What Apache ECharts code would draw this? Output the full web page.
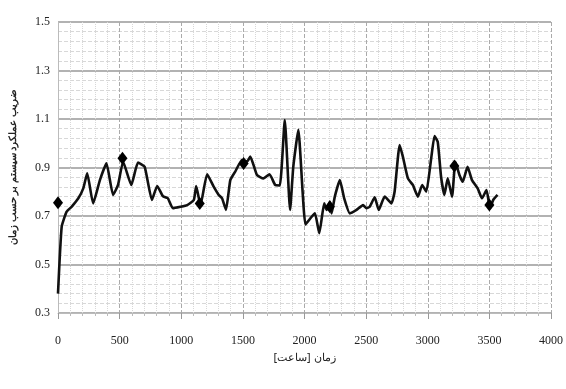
<!DOCTYPE html>
<html><head><meta charset="utf-8">
<script src="https://cdn.jsdelivr.net/npm/echarts@6/dist/echarts.min.js"></script>
<style>html,body{margin:0;padding:0;background:#fff}#c{width:566px;height:389px}</style>
</head><body><div id="c"></div>
<script>
var hours = [0,30,70,110,165,205,237,285,340,393,447,487,528,595,649,703,762,805,851,891,932,994,1048,1102,1121,1156,1210,1263,1304,1331,1363,1398,1438,1493,1533,1560,1614,1667,1716,1762,1800,1840,1883,1909,1950,2008,2058,2085,2120,2160,2179,2206,2220,2246,2287,2322,2368,2422,2475,2503,2529,2570,2602,2651,2705,2731,2772,2798,2839,2879,2920,2955,2988,3028,3055,3081,3108,3135,3162,3197,3224,3257,3284,3323,3359,3405,3440,3477,3505,3531,3566];
var values = [0.38,0.656,0.718,0.738,0.773,0.814,0.876,0.752,0.848,0.917,0.787,0.828,0.924,0.828,0.920,0.903,0.766,0.824,0.782,0.773,0.732,0.738,0.745,0.766,0.824,0.745,0.872,0.821,0.787,0.773,0.725,0.848,0.883,0.931,0.924,0.945,0.869,0.855,0.872,0.828,0.826,1.096,0.725,0.903,1.055,0.665,0.697,0.711,0.629,0.752,0.725,0.759,0.711,0.780,0.848,0.773,0.711,0.725,0.745,0.732,0.738,0.777,0.725,0.780,0.752,0.800,0.993,0.945,0.855,0.828,0.780,0.828,0.800,0.938,1.030,1.006,0.862,0.787,0.855,0.780,0.924,0.869,0.841,0.903,0.848,0.814,0.773,0.807,0.732,0.766,0.787];
var markHours = [0,523,1150,1506,2206,3216,3500];
var markValues = [0.755,0.938,0.752,0.917,0.738,0.906,0.745];
var xTitle = 'زمان [ساعت]';
var yTitle = 'ضریب عملکرد سیستم بر حسب زمان';

var line = hours.map(function(h,i){return [h, values[i]];});
var marks = markHours.map(function(h,i){return [h, markValues[i]];});
var chart = echarts.init(document.getElementById('c'));
var lab = {fontFamily:'Liberation Serif', fontSize:12, color:'#222'};
chart.setOption({
  animation:false,
  grid:{left:57, right:14, top:22, bottom:76},
  xAxis:{type:'value', min:0, max:4000, interval:500,
    name:xTitle, nameLocation:'middle', nameGap:34,
    nameTextStyle:{fontFamily:'Noto Sans', fontSize:11, color:'#222'},
    axisLabel:Object.assign({margin:22, formatter:function(v){return String(v);}}, lab),
    axisLine:{show:true, lineStyle:{color:'#bbb'}},
    axisTick:{show:true, length:6, inside:false, lineStyle:{color:'#999'}},
    splitLine:{show:true, lineStyle:{color:'#aaa', type:'dashed', width:1}},
    minorTick:{show:true, splitNumber:5, length:3, lineStyle:{color:'#bbb'}},
    minorSplitLine:{show:true, lineStyle:{color:'#d8d8d8', type:'dotted', width:1}}
  },
  yAxis:{type:'value', min:0.3, max:1.5, interval:0.2,
    name:yTitle, nameLocation:'middle', nameGap:40, nameRotate:90,
    nameTextStyle:{fontFamily:'Noto Sans', fontSize:10, fontWeight:'bold', color:'#222'},
    axisLabel:Object.assign({margin:8, formatter:function(v){return v.toFixed(1);}}, lab),
    axisLine:{show:true, lineStyle:{color:'#bbb'}},
    axisTick:{show:false},
    splitLine:{show:true, lineStyle:{color:'#999', width:1.5}},
    minorTick:{show:false, splitNumber:5},
    minorSplitLine:{show:true, lineStyle:{color:'#d8d8d8', type:'dashed', width:1}}
  },
  series:[
    {type:'line', data:line, smooth:0.15, showSymbol:false, lineStyle:{color:'#111', width:2.6}, z:3},
    {type:'scatter', data:marks, symbol:'diamond', symbolSize:[10,13], itemStyle:{color:'#000', opacity:1}, z:4}
  ]
});
</script></body></html>
